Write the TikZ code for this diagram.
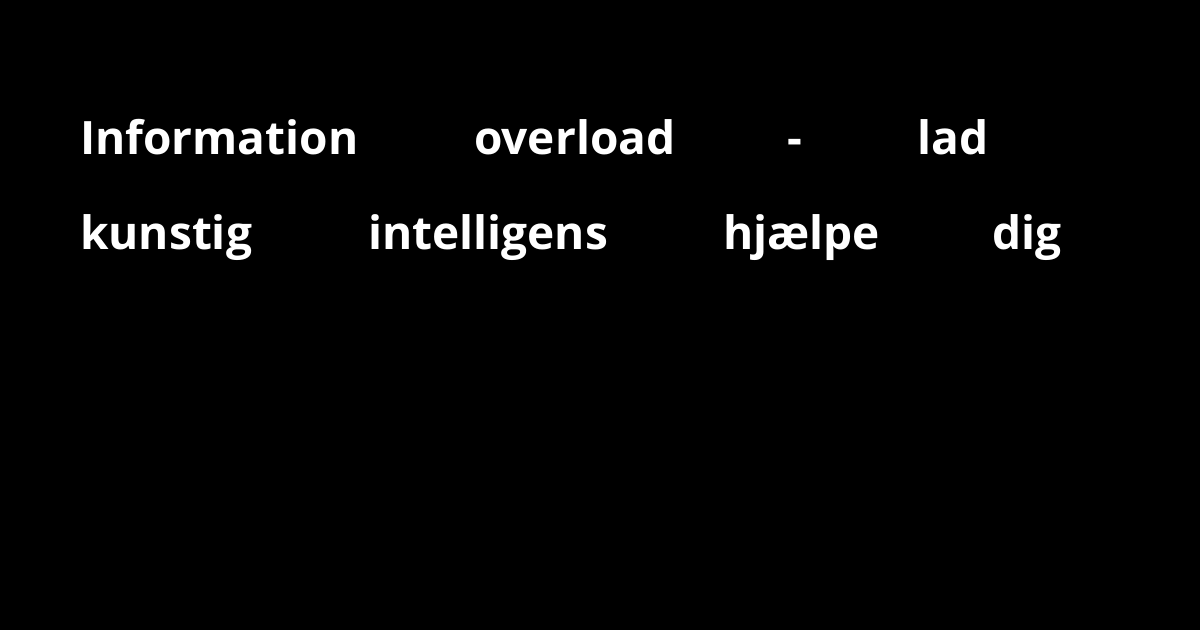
\documentclass[tikz,border=0pt]{standalone}
\usepackage{fontspec}
\setmainfont{Open Sans}
\begin{document}
\begin{tikzpicture}[x=1pt,y=1pt,
  word/.style={anchor=base west,inner sep=0pt,text=white,font=\fontsize{46}{55}\selectfont\bfseries}]
\fill[black] (0,0) rectangle (1200,630);
\useasboundingbox (0,0) rectangle (1200,630);
\node[word] (w1) at (80,475) {Information};
\node[word] (w2) at (474,475) {overload};
\node[word] (w3) at (787,475) {-};
\node[word] (w4) at (917,475) {lad};
\node[word] (w5) at (80,380) {kunstig};
\node[word] (w6) at (368,380) {intelligens};
\node[word] (w7) at (723,380) {hjælpe};
\node[word] (w8) at (992,380) {dig};
\end{tikzpicture}
\end{document}
